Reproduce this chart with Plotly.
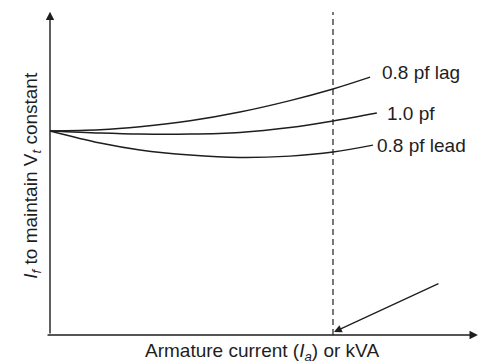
import plotly.graph_objects as go

# armature current (per unit of full load) and field current (per unit of no-load value)
lag_current = [0, 0.177, 0.318, 0.495, 0.671, 0.848, 1.0, 1.131]
lag_field = [1.0, 1.006, 1.021, 1.050, 1.093, 1.149, 1.206, 1.264]

unity_current = [0, 0.177, 0.318, 0.495, 0.671, 0.848, 1.0, 1.155]
unity_field = [1.0, 0.990, 0.985, 0.985, 0.993, 1.017, 1.049, 1.088]

lead_current = [0, 0.177, 0.318, 0.495, 0.671, 0.848, 1.0, 1.141]
lead_field = [1.0, 0.941, 0.907, 0.882, 0.870, 0.877, 0.897, 0.931]

curve_labels = ["0.8 pf lag", "1.0 pf", "0.8 pf lead"]
label_pos = [(1.166, 1.285), (1.183, 1.088), (1.148, 0.931)]

full_load = 1.0

ink = "#1e1e1e"
font = dict(family="Liberation Sans, Arial, sans-serif", size=19, color=ink)

fig = go.Figure()

for xs, ys in [(lag_current, lag_field), (unity_current, unity_field), (lead_current, lead_field)]:
    fig.add_trace(go.Scatter(
        x=xs, y=ys, mode="lines",
        line=dict(color=ink, width=1.4, shape="spline", smoothing=1.0),
        hoverinfo="skip", showlegend=False
    ))

# full load marker line
fig.add_shape(type="line", x0=full_load, x1=full_load, y0=0, y1=1.583,
              line=dict(color=ink, width=1.2, dash="6px,4px"))

annotations = []
for text, (lx, ly) in zip(curve_labels, label_pos):
    annotations.append(dict(x=lx, y=ly, text=text, showarrow=False,
                            xanchor="left", yanchor="middle", font=font))

# axes drawn as arrows
arrow = dict(text="", showarrow=True, axref="x", ayref="y", arrowhead=2,
             arrowsize=1.2, arrowwidth=1.4, arrowcolor=ink, standoff=0, startstandoff=0)
annotations.append(dict(arrow, x=0, y=1.585, ax=0, ay=0))
annotations.append(dict(arrow, x=1.512, y=0, ax=-0.014, ay=0))
annotations.append(dict(arrow, x=1.0035, y=0.0147, ax=1.378, ay=0.255, arrowwidth=1.3))

annotations.append(dict(
    x=0.75, y=-0.0833, text="Armature current (<i>I</i><sub><i>a</i></sub>) or kVA",
    showarrow=False, xanchor="center", yanchor="middle", font=font))
annotations.append(dict(
    x=-0.064, y=0.785, text="<i>I</i><sub><i>f</i></sub> to maintain V<sub><i>t</i></sub> constant",
    showarrow=False, textangle=-90, xanchor="center", yanchor="middle", font=font))

fig.update_layout(
    width=481, height=364,
    margin=dict(l=0, r=0, t=0, b=0),
    paper_bgcolor="white", plot_bgcolor="white",
    xaxis=dict(range=[-0.17668, 1.52297], visible=False, fixedrange=True),
    yaxis=dict(range=[-0.14216, 1.64216], visible=False, fixedrange=True),
    annotations=annotations,
    showlegend=False
)

fig.write_html("out.html", config=dict(displayModeBar=False),
               post_script="document.body.style.margin='0px';")
